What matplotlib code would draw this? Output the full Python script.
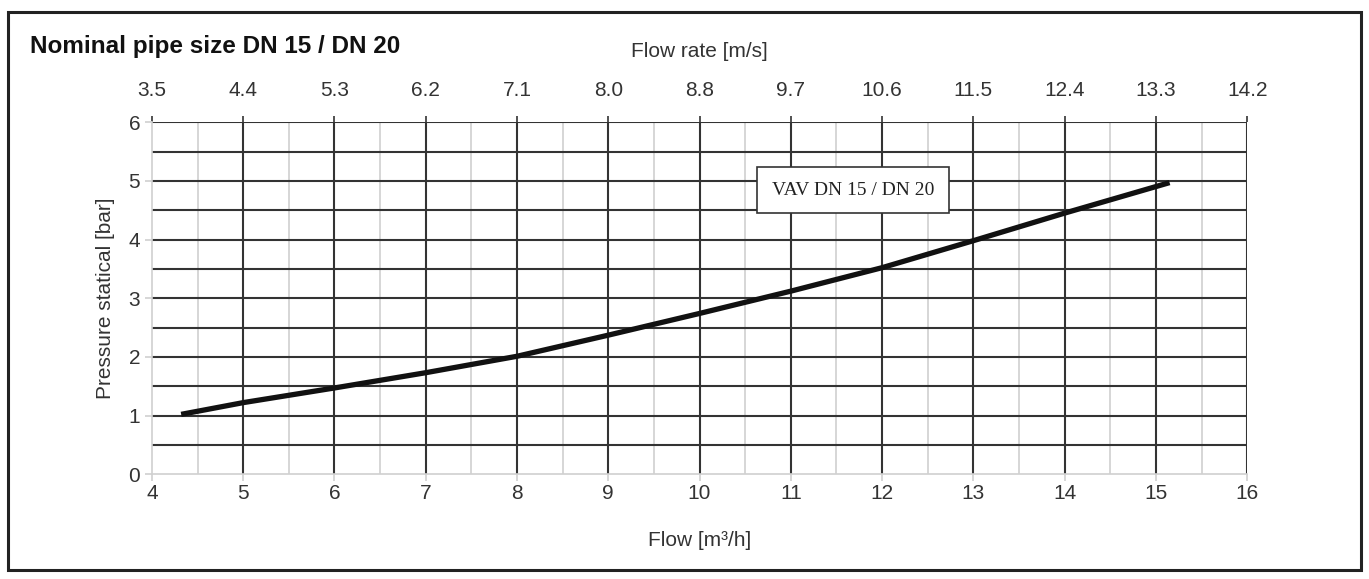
import matplotlib
matplotlib.use("Agg")
from matplotlib import pyplot as plt
from matplotlib.patches import Rectangle

# Pressure vs flow for VAV DN 15 / DN 20
flow = [4.32, 5.0, 6.0, 7.0, 8.0, 9.0, 10.0, 11.0, 12.0, 13.0, 14.0, 15.15]
pressure = [1.02, 1.22, 1.47, 1.73, 2.01, 2.37, 2.74, 3.12, 3.52, 3.98, 4.45, 4.97]
flow_ticks = [4, 5, 6, 7, 8, 9, 10, 11, 12, 13, 14, 15, 16]
velocity_labels = ["3.5", "4.4", "5.3", "6.2", "7.1", "8.0", "8.8", "9.7",
                   "10.6", "11.5", "12.4", "13.3", "14.2"]
pressure_ticks = [0, 1, 2, 3, 4, 5, 6]

plt.rcParams['font.family'] = ['Liberation Sans', 'DejaVu Sans']
dark = "#333333"
light = "#d0d0d0"

fig = plt.figure(figsize=(13.69, 5.79), dpi=100)
fig.patches.append(Rectangle((0.006, 0.016), 0.988, 0.963, transform=fig.transFigure,
                             fill=False, edgecolor="#222222", linewidth=2.2))
ax = fig.add_axes([0.111, 0.181, 0.8, 0.608])
ax.set_xlim(4, 16)
ax.set_ylim(0, 6)

# grid: light lines at half flow steps, dark at whole ones, dark every 0.5 bar
for x in flow_ticks[:-1]:
    ax.axvline(x + 0.5, color=light, lw=1.2, zorder=1)
for x in flow_ticks[1:]:
    ax.axvline(x, color=dark, lw=1.5, zorder=2)
for i in range(1, 13):
    ax.axhline(i * 0.5, color=dark, lw=1.5, zorder=2)

for side in ["left", "bottom"]:
    ax.spines[side].set_color(light)
    ax.spines[side].set_linewidth(1.2)
for side in ["top", "right"]:
    ax.spines[side].set_visible(False)

ax.plot(flow, pressure, color="#111111", lw=3.8, solid_capstyle="butt", zorder=4)

ax.set_xticks(flow_ticks)
ax.set_yticks(pressure_ticks)
ax.tick_params(axis="both", colors=light, labelcolor="#333333", labelsize=15, length=5, width=1.2)
ax.tick_params(axis="x", pad=2)
ax.set_xlabel("Flow [m³/h]", fontsize=15, color="#333333", labelpad=20)
ax.set_ylabel("Pressure statical [bar]", fontsize=15, color="#333333", labelpad=10)

top = ax.secondary_xaxis("top")
top.set_xticks(flow_ticks, labels=velocity_labels)
top.tick_params(colors=dark, labelcolor="#333333", labelsize=15, length=4, width=1.2, pad=12)
top.spines["top"].set_visible(False)
top.set_xlabel("Flow rate [m/s]", fontsize=15, color="#333333", labelpad=17)

ax.text(11.68, 4.84, "VAV DN 15 / DN 20", family=["Liberation Serif", "DejaVu Serif"],
        fontsize=14, color="#222222", ha="center", va="center", zorder=5,
        bbox=dict(boxstyle="square,pad=0.75", fc="white", ec="#333333", lw=1.2))

fig.text(0.022, 0.92, "Nominal pipe size DN 15 / DN 20", fontsize=17.5, fontweight="bold",
         color="#111111", ha="left", va="center")

fig.savefig("out.png", dpi=100, facecolor="white")
